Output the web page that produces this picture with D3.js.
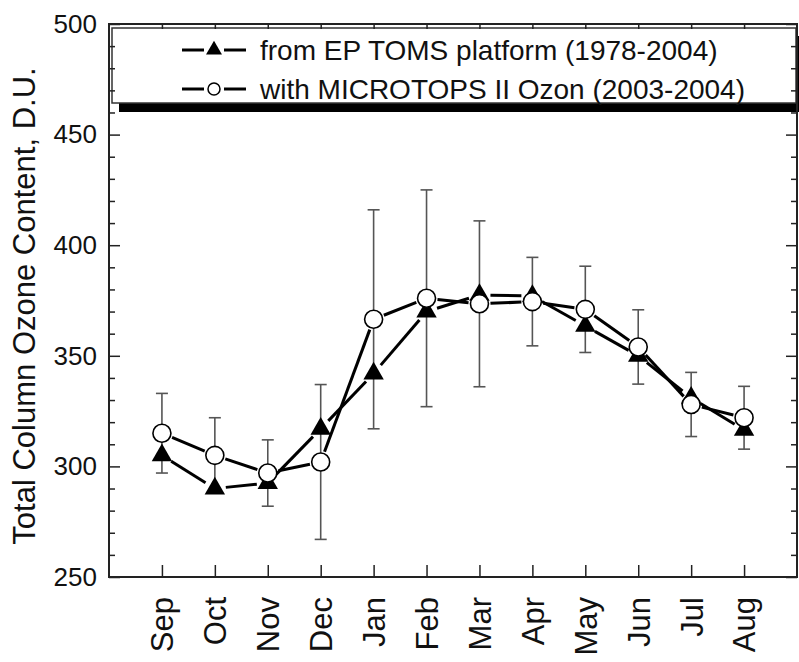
<!DOCTYPE html>
<html>
<head>
<meta charset="utf-8">
<script src="https://cdn.jsdelivr.net/npm/d3@7"></script>
<style>
  html, body { margin: 0; padding: 0; background: #fff; }
  svg { display: block; font-family: Arial, "Liberation Sans", Helvetica, sans-serif; }
</style>
</head>
<body>
<svg id="chart" width="799" height="662"></svg>
<script>
// ---- data ----
const months = ["Sep","Oct","Nov","Dec","Jan","Feb","Mar","Apr","May","Jun","Jul","Aug"];
const tomsValues = [305, 290, 292.5, 317, 342, 370, 377.5, 377, 363.5, 350, 331, 316.5];
const microtopsValues = [315, 305, 297, 302, 366.5, 376, 373.5, 374.5, 371, 354, 328, 322];
const microtopsErrors = [18, 17, 15, 35, 49.5, 49, 37.5, 20, 19.5, 16.8, 14.5, 14.2];
const yTickValues = [250, 300, 350, 400, 450, 500];
const legendLabels = ["from EP TOMS platform (1978-2004)", "with MICROTOPS II Ozon (2003-2004)"];
const yTitle = "Total Column Ozone Content, D.U.";

// ---- layout ----
const pLeft = 109, pRight = 797, pTop = 24, pBottom = 577;
const svg = d3.select("#chart");

const x = d3.scaleLinear().domain([0, 13]).range([pLeft, pRight]);
const y = d3.scaleLinear().domain([250, 500]).range([pBottom, pTop]);
const mx = i => x(i + 1);

const axisColor = "#222";
const textColor = "#111";

// legend shadow and box
const legBox = {x0: 112, y0: 28, x1: 796, y1: 103};
svg.append("rect").attr("x", legBox.x0 + 7).attr("y", legBox.y0 + 8)
  .attr("width", legBox.x1 - legBox.x0 + 10).attr("height", legBox.y1 - legBox.y0 + 1)
  .attr("fill", "#000");
svg.append("rect").attr("x", legBox.x0).attr("y", legBox.y0)
  .attr("width", legBox.x1 - legBox.x0).attr("height", legBox.y1 - legBox.y0)
  .attr("fill", "#fff").attr("stroke", "#333").attr("stroke-width", 1.5);

// axes: left with minor ticks
const yMinor = d3.range(250, 501, 10);
const leftAxis = d3.axisLeft(y).tickValues(yMinor).tickSize(-6).tickFormat("");
svg.append("g").attr("transform", `translate(${pLeft},0)`).call(leftAxis)
  .call(g => g.select(".domain").remove())
  .call(g => g.selectAll(".tick line").attr("stroke", axisColor).attr("stroke-width", 1.5)
    .attr("x2", d => d % 50 === 0 ? 11 : 6));
const leftLabels = d3.axisLeft(y).tickValues(yTickValues).tickSize(0).tickPadding(12);
svg.append("g").attr("transform", `translate(${pLeft},0)`).call(leftLabels)
  .call(g => g.select(".domain").remove())
  .call(g => g.selectAll("text").attr("font-size", 26).attr("fill", textColor)
    .attr("font-family", "Arial, 'Liberation Sans', sans-serif"));

const rightAxis = d3.axisRight(y).tickValues(yMinor).tickSize(-6).tickFormat("");
svg.append("g").attr("transform", `translate(${pRight},0)`).call(rightAxis)
  .call(g => g.select(".domain").remove())
  .call(g => g.selectAll(".tick line").attr("stroke", axisColor).attr("stroke-width", 1.5)
    .attr("x2", d => d % 50 === 0 ? -11 : -6));

const monthIdx = d3.range(12);
const bottomAxis = d3.axisBottom(d3.scalePoint().domain(months).range([mx(0), mx(11)]))
  .tickSize(-12).tickPadding(14);
svg.append("g").attr("transform", `translate(0,${pBottom})`).call(bottomAxis)
  .call(g => g.select(".domain").remove())
  .call(g => g.selectAll(".tick line").attr("stroke", axisColor).attr("stroke-width", 1.5))
  .call(g => g.selectAll("text")
    .attr("font-size", 31).attr("fill", textColor)
    .attr("font-family", "Arial, 'Liberation Sans', sans-serif")
    .attr("transform", "rotate(-90)")
    .attr("text-anchor", "end").attr("dy", "0.35em").attr("x", -20).attr("y", 0));

const topAxis = d3.axisTop(d3.scalePoint().domain(months).range([mx(0), mx(11)]))
  .tickSize(-5).tickFormat("");
svg.append("g").attr("transform", `translate(0,${pTop})`).call(topAxis)
  .call(g => g.select(".domain").remove())
  .call(g => g.selectAll(".tick line").attr("stroke", axisColor).attr("stroke-width", 1.5));

// frame
svg.append("rect").attr("x", pLeft).attr("y", pTop).attr("width", pRight - pLeft).attr("height", pBottom - pTop)
  .attr("fill", "none").attr("stroke", axisColor).attr("stroke-width", 2);

// y title
svg.append("text").attr("transform", `translate(35,306) rotate(-90)`)
  .attr("text-anchor", "middle").attr("font-size", 31).attr("fill", textColor)
  .text(yTitle);

// ---- data lines with gaps ----
const gap = 11;
function gappedSegments(values) {
  const segs = [];
  for (let i = 0; i < values.length - 1; i++) {
    const x1 = mx(i), y1 = y(values[i]), x2 = mx(i + 1), y2 = y(values[i + 1]);
    const dx = x2 - x1, dy = y2 - y1, L = Math.hypot(dx, dy);
    const ux = dx / L, uy = dy / L;
    segs.push([x1 + ux * gap, y1 + uy * gap, x2 - ux * gap, y2 - uy * gap]);
  }
  return segs;
}
[tomsValues, microtopsValues].forEach(vals => {
  svg.append("g").selectAll("line").data(gappedSegments(vals)).join("line")
    .attr("x1", d => d[0]).attr("y1", d => d[1]).attr("x2", d => d[2]).attr("y2", d => d[3])
    .attr("stroke", "#000").attr("stroke-width", 3);
});

// error bars (MICROTOPS)
const eb = svg.append("g").attr("stroke", "#555").attr("stroke-width", 1.6);
monthIdx.forEach(i => {
  const cx = mx(i), hi = y(microtopsValues[i] + microtopsErrors[i]), lo = y(microtopsValues[i] - microtopsErrors[i]);
  eb.append("line").attr("x1", cx).attr("x2", cx).attr("y1", hi).attr("y2", lo);
  eb.append("line").attr("x1", cx - 6).attr("x2", cx + 6).attr("y1", hi).attr("y2", hi);
  eb.append("line").attr("x1", cx - 6).attr("x2", cx + 6).attr("y1", lo).attr("y2", lo);
});

// markers
const tri = d3.symbol().type(d3.symbolTriangle).size(180);
svg.append("g").selectAll("path").data(tomsValues).join("path")
  .attr("d", tri).attr("transform", (d, i) => `translate(${mx(i)},${y(d)})`)
  .attr("fill", "#000");
svg.append("g").selectAll("circle").data(microtopsValues).join("circle")
  .attr("cx", (d, i) => mx(i)).attr("cy", d => y(d)).attr("r", 9)
  .attr("fill", "#fff").attr("stroke", "#000").attr("stroke-width", 1.6);

// legend content
const legRows = [50, 89];
const legSym = svg.append("g");
legRows.forEach((ly, k) => {
  legSym.append("line").attr("x1", 182).attr("x2", 204).attr("y1", ly).attr("y2", ly).attr("stroke", "#000").attr("stroke-width", 3);
  legSym.append("line").attr("x1", 224).attr("x2", 246).attr("y1", ly).attr("y2", ly).attr("stroke", "#000").attr("stroke-width", 3);
  if (k === 0) {
    legSym.append("path").attr("d", d3.symbol().type(d3.symbolTriangle).size(110)).attr("transform", `translate(214,${ly})`).attr("fill", "#000");
  } else {
    legSym.append("circle").attr("cx", 214).attr("cy", ly).attr("r", 6).attr("fill", "#fff").attr("stroke", "#000").attr("stroke-width", 1.5);
  }
  svg.append("text").attr("x", 260).attr("y", ly).attr("dy", "0.35em")
    .attr("font-size", 28).attr("fill", textColor).text(legendLabels[k]);
});
</script>
</body>
</html>
